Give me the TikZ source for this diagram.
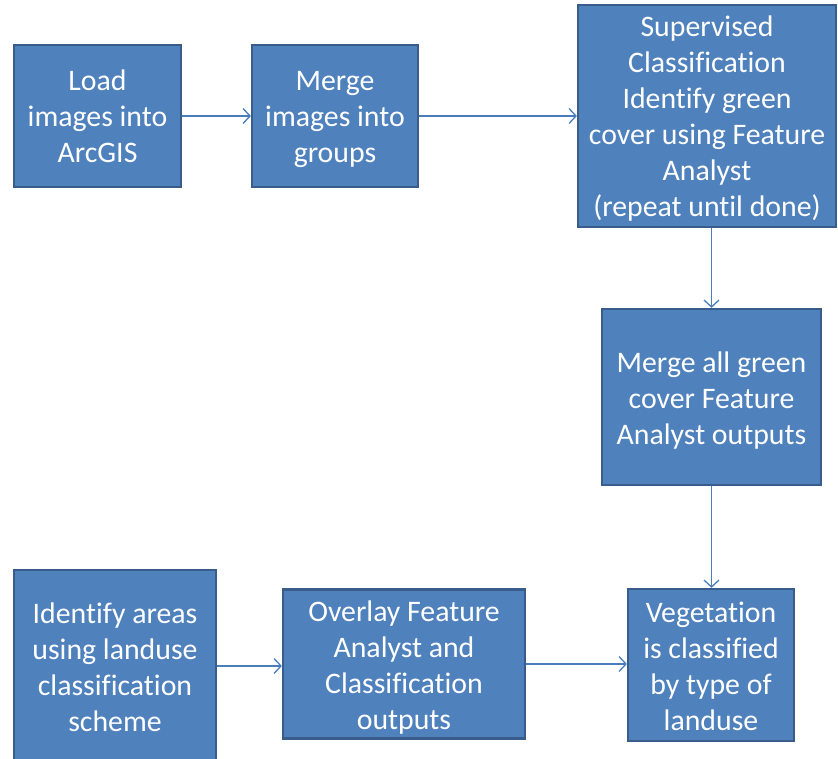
\documentclass[tikz,border=0pt]{standalone}
\usepackage{fontspec}
\setmainfont{Carlito}[Ligatures=NoCommon]
\usetikzlibrary{arrows.meta}
\definecolor{boxfill}{HTML}{4F81BD}
\definecolor{boxline}{HTML}{385D8A}
\definecolor{arrcol}{HTML}{4A7EBB}
\newcommand{\ftop}{\rule{0pt}{28pt}}
\newcommand{\fbot}{\rule[-6pt]{0pt}{6pt}}
\tikzset{
  box/.style={draw=boxline, line width=2.2pt, fill=boxfill, text=white, align=center, inner sep=0pt,
    font=\fontsize{29.8}{36}\selectfont},
  arr/.style={draw=arrcol, line width=1.3pt, -{Straight Barb[length=7pt,width=15pt,line width=1.3pt]}}
}
\begin{document}
\begin{tikzpicture}[x=1pt,y=-1pt]
\useasboundingbox (0,0) rectangle (838,759);
\node[box, minimum width=167pt, minimum height=142pt] (load) at (97.5,116) {\ftop Load\\images into\\ArcGIS\fbot};
\node[box, minimum width=166pt, minimum height=142pt] (merge) at (335,116) {\ftop Merge\\images into\\groups\fbot};
\node[box, minimum width=258pt, minimum height=222pt] (sup) at (707,116) {\ftop Supervised\\Classification\\Identify green\\cover using Feature\\Analyst\\(repeat until done)\fbot};
\node[box, minimum width=219pt, minimum height=176pt] (mall) at (711.5,397) {\ftop Merge all green\\cover Feature\\Analyst outputs\fbot};
\node[box, minimum width=202pt, minimum height=192pt] (ident) at (115,666) {\ftop Identify areas\\using landuse\\classification\\scheme\fbot};
\node[box, minimum width=242pt, minimum height=149pt] (over) at (404,664) {\ftop Overlay Feature\\Analyst and\\Classification\\outputs\fbot};
\node[box, minimum width=166pt, minimum height=152pt] (veg) at (711,665) {\ftop Vegetation\\is classified\\by type of\\landuse\fbot};
\draw[arr] (load.east) -- (merge.west);
\draw[arr] (merge.east) -- (merge.east -| sup.west);
\draw[arr] (sup.south -| mall.north) -- (mall.north);
\draw[arr] (mall.south) -- (mall.south |- veg.north);
\draw[arr] (ident.east) -- (ident.east -| over.west);
\draw[arr] (over.east) -- (over.east -| veg.west);
\end{tikzpicture}
\end{document}
